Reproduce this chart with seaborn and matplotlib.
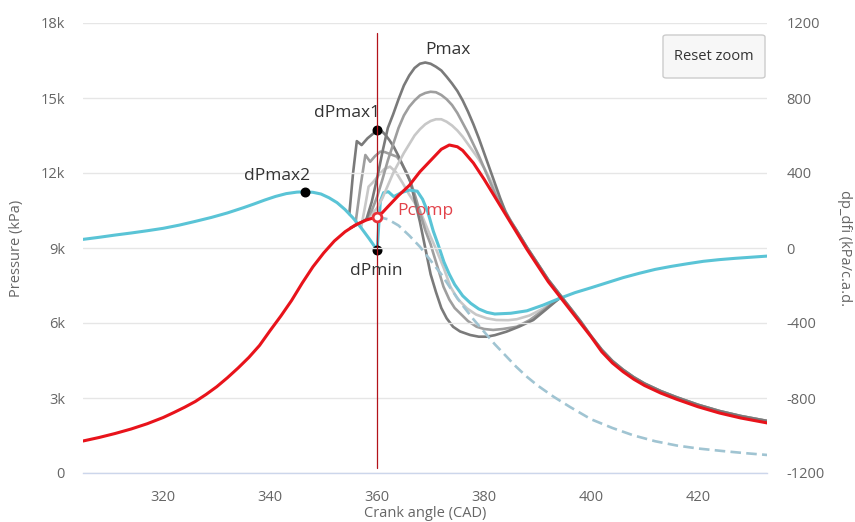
import matplotlib
matplotlib.use("Agg")
import matplotlib.pyplot as plt
from matplotlib.patches import FancyBboxPatch
import seaborn as sns
import pandas as pd

# ---------------- data ----------------
# Pressure traces (left axis, kPa)
red_x = [305, 308, 311, 314, 317, 320, 322, 324, 326, 328, 330, 332, 334, 336, 338, 340, 342, 344, 346, 348,
         350, 352, 354, 356, 358, 360, 361, 362, 364, 366, 368, 370, 372, 373.5, 375, 376, 378, 380, 382, 384,
         386, 388, 390, 392, 394, 396, 398, 400, 402, 404, 406, 408, 410, 413, 416, 420, 424, 428, 433]
red_p = [1280, 1420, 1580, 1760, 1970, 2220, 2420, 2630, 2860, 3140, 3450, 3810, 4200, 4620, 5100, 5700, 6280, 6900,
         7600, 8250, 8800, 9280, 9650, 9930, 10120, 10250, 10420, 10650, 11100, 11500, 12050, 12500, 12950, 13120,
         13050, 12900, 12400, 11750, 11050, 10350, 9650, 8950, 8300, 7650, 7100, 6550, 6000, 5450, 4850, 4400,
         4050, 3750, 3500, 3200, 2950, 2650, 2400, 2200, 2000]

head_x = [355, 357, 358, 359, 360, 361, 362, 363, 364, 365, 366, 367, 368, 369, 370, 371, 372, 373, 374,
          375, 376, 377, 378, 379, 380, 381, 382, 383, 384, 385, 386, 387]
dark_p_head = [9800, 10020, 10150, 10850, 11800, 12850, 13800, 14350, 14950, 15500, 15900, 16200, 16370, 16420, 16370,
               16250, 16100, 15850, 15580, 15280, 14900, 14450, 13950, 13400, 12800, 12200, 11600, 11000, 10450, 10050, 9730, 9380]
mid_p_head = [9800, 10020, 10150, 10500, 11050, 11750, 12500, 13150, 13800, 14300, 14650, 14900, 15100, 15200, 15250,
              15230, 15120, 14950, 14720, 14400, 14000, 13600, 13150, 12700, 12200, 11700, 11200, 10750, 10420, 10080, 9730, 9380]
light_p_head = [9800, 10020, 10150, 10350, 10600, 11000, 11500, 12000, 12400, 12800, 13150, 13500, 13750, 13950, 14080,
                14150, 14150, 14050, 13900, 13700, 13450, 13150, 12850, 12550, 12200, 11800, 11350, 10900, 10480, 10080, 9730, 9380]
tail_x = [388, 390, 392, 394, 396, 398, 400, 402, 404, 406, 408, 410, 413, 416, 420, 424, 428, 433]
gray_p_tail = [9030, 8380, 7730, 7180, 6630, 6080, 5480, 4930, 4480, 4130, 3830, 3580, 3280, 3030, 2730, 2480, 2280, 2080]

motored_x = [360, 362, 364, 366, 368, 370, 372, 374, 376, 378, 380, 382, 384, 386, 388, 390, 393, 396,
             400, 404, 408, 412, 416, 420, 425, 429, 433]
motored_p = [10250, 10150, 9900, 9500, 9050, 8500, 7950, 7300, 6700, 6150, 5650, 5150, 4700, 4250, 3850, 3500, 3050, 2650,
             2150, 1800, 1500, 1270, 1100, 980, 870, 790, 720]

# Pressure derivative traces (right axis, kPa/c.a.d.)
cyan_x = [305, 308, 311, 314, 317, 320, 323, 326, 329, 332, 335, 337, 339, 341, 343, 345, 346.5, 348, 349.5,
          351, 352.5, 354, 355.5, 357, 358.5, 360,
          360.6, 361.2, 362.1, 363.1, 364.5, 366, 367.5, 368.5, 369.5, 370.5, 371.5, 372.5, 373.5, 374.5,
          376, 377.5, 379, 380.5, 382, 385, 388, 391, 394, 397, 400, 403, 406, 409, 412, 415, 418, 421,
          424, 427, 430, 433]
cyan_d = [46, 57, 69, 80, 92, 105, 122, 142, 163, 187, 215, 235, 256, 275, 290, 298, 300, 297, 288,
          268, 242, 205, 160, 108, 50, -11,
          250, 295, 300, 274, 295, 309, 303, 260, 190, 90, 10, -75, -140, -195,
          -255, -295, -325, -343, -352, -348, -335, -305, -270, -238, -212, -185, -158, -135, -114, -98, -84, -71,
          -62, -55, -49, -43]

dark_dx = [354.8, 355.5, 356.2, 357.1, 358.2, 359.3, 360, 360.8, 361.5, 362.3, 363.1, 364, 364.9, 366.2, 367,
           368, 369, 370, 371, 372, 373, 374.2, 375.5, 377.4, 379, 380.5, 382, 384.2, 386.5, 389.2, 391.5, 394]
dark_d = [181, 400, 570, 549, 585, 611, 629, 625, 605, 575, 540, 490, 434, 354, 260,
          140, 0, -140, -235, -320, -375, -420, -445, -464, -473, -473, -465, -446, -420, -384, -330, -270]
mid_dx = [356, 356.9, 357.8, 358.7, 359.6, 360.6, 361.4, 362.5, 363.7, 364.6, 365.6, 366.4, 367.2, 368, 369, 370, 370.5,
          371.5, 372.4, 373.5, 374.5, 375.5, 377, 378.6, 380, 381.7, 383.5, 386.1, 388.5, 391.1, 393, 394]
mid_d = [141, 330, 496, 460, 490, 514, 512, 500, 487, 450, 398, 340, 270, 190, 95, 20, -28,
         -120, -206, -275, -320, -348, -390, -420, -432, -437, -432, -420, -385, -331, -290, -270]
light_dx = [357, 357.8, 358.4, 359.2, 360.2, 361.3, 362.4, 363.5, 364.8, 366, 366.8, 368, 369, 370, 371,
            372.5, 373.7, 375, 376.8, 378.5, 380.5, 382.3, 384.5, 386.1, 388.5, 391.1, 393, 394]
light_d = [108, 230, 327, 350, 385, 420, 434, 405, 345, 285, 250, 200, 130, 60, -5,
           -110, -206, -270, -322, -355, -375, -384, -385, -380, -360, -322, -290, -270]

# annotated points
tdc = 360
dpmax1 = (360, 629)
dpmax2 = (346.5, 300)
dpmin = (360, -11)
pcomp = (360, 10250)

x_ticks = [320, 340, 360, 380, 400, 420]
p_ticks = [0, 3000, 6000, 9000, 12000, 15000, 18000]
p_tick_labels = ["0", "3k", "6k", "9k", "12k", "15k", "18k"]
d_ticks = [-1200, -800, -400, 0, 400, 800, 1200]

# ---------------- styling ----------------
sns.set_style("white")
plt.rcParams["font.family"] = ["Open Sans", "DejaVu Sans"]

RED = "#e8131b"
CYAN = "#5ac4d6"
DARK = "#7a7a7a"
MID = "#9e9e9e"
LIGHT = "#c8c8c8"
DASH = "#a0c4d2"
TXT = "#666666"

fig = plt.figure(figsize=(8.55, 5.22), dpi=100)
ax = fig.add_axes([83 / 855, 49 / 522, 684 / 855, 450 / 522])
ax2 = ax.twinx()
ax.set_zorder(ax2.get_zorder() + 1)
ax.patch.set_visible(False)

# derivative traces (right axis)
for xs, ys, c in [(light_dx, light_d, LIGHT), (mid_dx, mid_d, MID), (dark_dx, dark_d, DARK)]:
    sns.lineplot(x=xs, y=ys, ax=ax2, color=c, lw=1.9, sort=False, estimator=None)
sns.lineplot(x=cyan_x, y=cyan_d, ax=ax2, color=CYAN, lw=2.2, sort=False, estimator=None)
ax2.scatter([dpmax1[0], dpmax2[0], dpmin[0]], [dpmax1[1], dpmax2[1], dpmin[1]],
            s=38, color="black", zorder=10)

# pressure traces (left axis)
sns.lineplot(x=motored_x, y=motored_p, ax=ax, color=DASH, lw=1.9, sort=False, estimator=None,
             linestyle=(0, (4, 2)))
for head, c in [(light_p_head, LIGHT), (mid_p_head, MID), (dark_p_head, DARK)]:
    sns.lineplot(x=head_x + tail_x, y=head + gray_p_tail, ax=ax, color=c, lw=1.9, sort=False, estimator=None)
sns.lineplot(x=red_x, y=red_p, ax=ax, color=RED, lw=2.2, sort=False, estimator=None)
ax.axvline(tdc, ymin=5 / 450, ymax=440 / 450, color="#b3121a", lw=0.9, zorder=3)
ax.scatter([pcomp[0]], [pcomp[1]], s=40, facecolor="white", edgecolor="#e8323a", linewidth=2.0, zorder=12)

# annotations
ax.text(373.3, 16920, "Pmax", ha="center", va="center", fontsize=12.5, color="#333333")
ax.text(354.4, 14400, "dPmax1", ha="center", va="center", fontsize=12.5, color="#333333")
ax.text(341.3, 11880, "dPmax2", ha="center", va="center", fontsize=12.5, color="#333333")
ax.text(359.8, 8080, "dPmin", ha="center", va="center", fontsize=12.5, color="#333333")
ax.text(363.8, 10480, "Pcomp", ha="left", va="center", fontsize=12.5, color="#e2434b")

# axes
ax.set_xlim(305, 432.9)
ax.set_ylim(0, 18000)
ax2.set_ylim(-1200, 1200)
ax.set_xticks(x_ticks)
ax.set_xticklabels([str(v) for v in x_ticks])
ax.set_yticks(p_ticks)
ax.set_yticklabels(p_tick_labels)
ax2.set_yticks(d_ticks)
ax2.set_yticklabels([str(v) for v in d_ticks])

ax.grid(axis="y", color="#e6e6e6", lw=1)
ax.grid(axis="x", visible=False)
ax2.grid(False)
for a in (ax, ax2):
    for s in a.spines.values():
        s.set_visible(False)
ax.spines["bottom"].set_visible(True)
ax.spines["bottom"].set_color("#ccd6eb")
ax.spines["bottom"].set_linewidth(1)

ax.tick_params(axis="x", length=8, width=1, color="#ccd6eb", labelcolor=TXT, labelsize=10.5, pad=4)
ax.tick_params(axis="y", length=0, labelcolor=TXT, labelsize=10.5, pad=13)
ax2.tick_params(axis="y", length=0, labelcolor=TXT, labelsize=10.5, pad=14)

ax.set_xlabel("Crank angle (CAD)", color=TXT, fontsize=10.5, labelpad=1)
ax.set_ylabel("Pressure (kPa)", color=TXT, fontsize=10.5, labelpad=12)
ax2.set_ylabel("dp_dfi (kPa/c.a.d.", color=TXT, fontsize=10.5, rotation=270, labelpad=20)

# "Reset zoom" button
btn = FancyBboxPatch((663 / 855, (522 - 78) / 522), 102 / 855, 43 / 522,
                     boxstyle="round,pad=0,rounding_size=0.004", transform=fig.transFigure,
                     facecolor="#f7f7f7", edgecolor="#cccccc", lw=1)
fig.patches.append(btn)
fig.text(714 / 855, (522 - 57) / 522, "Reset zoom", ha="center", va="center", fontsize=10.5, color="#333333")

fig.savefig("out.png", dpi=100)
